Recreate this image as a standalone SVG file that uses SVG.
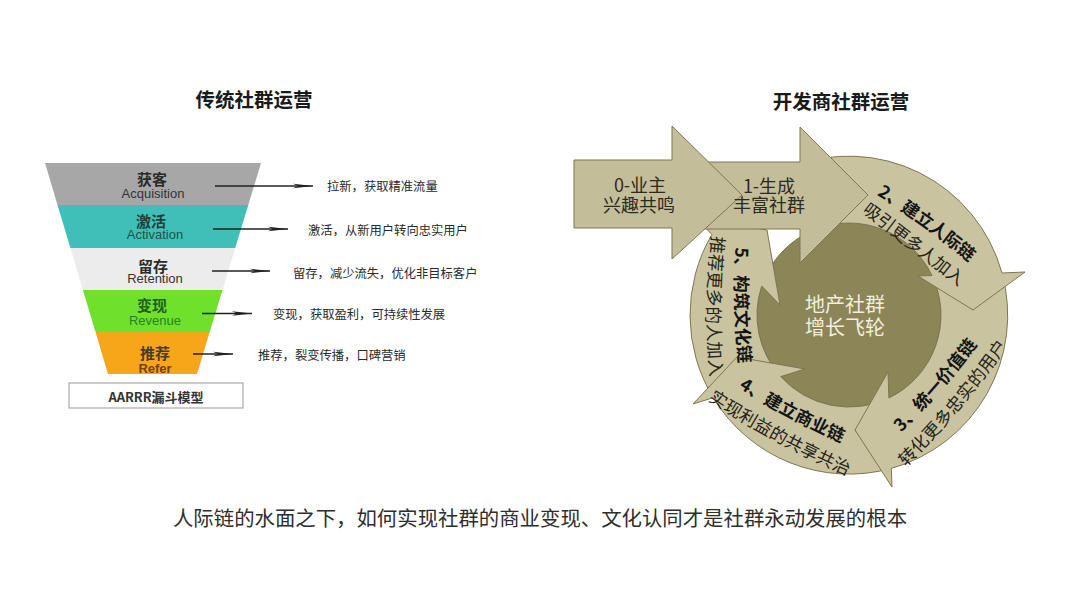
<svg xmlns="http://www.w3.org/2000/svg" width="1080" height="599" viewBox="0 0 1080 599">
<defs>
<style>
.cjk{font-family:"Noto Sans CJK SC","Noto Sans",sans-serif}
.lat{font-family:"Liberation Sans","Noto Sans CJK SC",sans-serif}
.title{font-size:19.5px;font-weight:700;fill:#1a1a1a;text-anchor:middle;dominant-baseline:central}
.desc{font-size:12.3px;fill:#2a2a2a;dominant-baseline:central}
.zh{font-size:15px;font-weight:700;text-anchor:middle;dominant-baseline:central}
.en{font-size:13px;text-anchor:middle;dominant-baseline:central}
.ring{fill:#c9c3a0;stroke:#7d7752;stroke-width:1;stroke-linejoin:round}
.big{fill:#c3bd99;stroke:#7d7752;stroke-width:1;stroke-linejoin:round}
.arcb{font-size:17.5px;font-weight:700;fill:#141414;dominant-baseline:central}
.arcr{font-size:17.5px;fill:#262318;dominant-baseline:central}
.inarrow{font-size:18px;fill:#2d2a1e;text-anchor:middle;dominant-baseline:central}
.ptr{stroke:#222;stroke-width:1.4}
</style>
<marker id="ah" viewBox="0 0 20 6" refX="20" refY="3" markerWidth="20" markerHeight="6" markerUnits="userSpaceOnUse" orient="auto">
<path d="M0,0.8 L20,3 L0,5.2 L5,3 Z" fill="#222"/>
</marker>
<path id="p2b" d="M868,180 Q928,216 986,266"/>
<path id="p2r" d="M860.8,201.1 Q912.3,240.1 969.8,285.1"/>
<path id="p3b" d="M890.8,431.6 Q936.8,386.3 975,334.4"/>
<path id="p3r" d="M897.5,464 Q956.5,405.9 1003.5,337.6"/>
<path id="p4b" d="M733.6,375.4 Q791.2,412.8 854.4,439.6"/>
<path id="p4r" d="M705.7,389.1 Q777.7,437.3 857.3,471.5"/>
<path id="p5b" d="M744,236 Q740,305 748,374"/>
<path id="p5r" d="M721,227 Q711,306 719,386"/>
</defs>
<rect width="1080" height="599" fill="#ffffff"/>

<g id="title-left"><text class="cjk title" x="254" y="98">传统社群运营</text></g>
<g id="title-right"><text class="cjk title" x="841" y="100">开发商社群运营</text></g>

<g id="funnel">
<g id="band-acquisition">
<polygon points="45,163 261,163 248.3,205 57.5,205" fill="#a7a7a7"/>
<text class="cjk zh" x="152" y="178.5" fill="#2a2a2a">获客</text>
<text class="lat en" x="153" y="193.5" fill="#333">Acquisition</text>
</g>
<g id="band-activation">
<polygon points="57.5,205 248.3,205 235.2,248 70.4,248" fill="#3fbfb7"/>
<text class="cjk zh" x="151" y="220" fill="#1f3f3e">激活</text>
<text class="lat en" x="155" y="234" fill="#23504e">Activation</text>
</g>
<g id="band-retention">
<polygon points="70.4,248 235.2,248 222.5,290 82.9,290" fill="#ececec"/>
<text class="cjk zh" x="153" y="265" fill="#2a2a2a">留存</text>
<text class="lat en" x="155" y="278.5" fill="#333">Retention</text>
</g>
<g id="band-revenue">
<polygon points="82.9,290 222.5,290 209.7,332 95.5,332" fill="#6fe12c"/>
<text class="cjk zh" x="152" y="304.5" fill="#245f20">变现</text>
<text class="lat en" x="155" y="320.5" fill="#2a7f2a">Revenue</text>
</g>
<g id="band-refer">
<polygon points="95.5,332 209.7,332 197,374 108,374" fill="#f8a619"/>
<text class="cjk zh" x="155" y="352" fill="#4a3a2a">推荐</text>
<text class="lat en" x="155" y="368.5" fill="#7a3f10" font-weight="700">Refer</text>
</g>
<g id="aarrr-box">
<rect x="69" y="383" width="174" height="25" fill="#ffffff" stroke="#a9a9a9" stroke-width="1.2"/>
<text class="cjk" x="156" y="396" font-size="13" font-weight="700" fill="#333" text-anchor="middle" dominant-baseline="central">AARRR漏斗模型</text>
</g>
</g>

<g id="funnel-connectors">
<line class="ptr" x1="215" y1="186" x2="313" y2="186" marker-end="url(#ah)"/>
<line class="ptr" x1="213" y1="229" x2="288" y2="229" marker-end="url(#ah)"/>
<line class="ptr" x1="212" y1="271" x2="270" y2="271" marker-end="url(#ah)"/>
<line class="ptr" x1="202" y1="313.5" x2="252" y2="313.5" marker-end="url(#ah)"/>
<line class="ptr" x1="193" y1="354" x2="233" y2="354" marker-end="url(#ah)"/>
</g>

<g id="funnel-descriptions">
<text class="cjk desc" x="327" y="186">拉新，获取精准流量</text>
<text class="cjk desc" x="308" y="230">激活，从新用户转向忠实用户</text>
<text class="cjk desc" x="293" y="272.5">留存，减少流失，优化非目标客户</text>
<text class="cjk desc" x="273" y="313.5">变现，获取盈利，可持续性发展</text>
<text class="cjk desc" x="258" y="354.5">推荐，裂变传播，口碑营销</text>
</g>

<g id="flywheel">
<g id="hub"><circle cx="849" cy="315" r="92" fill="#8b8558" stroke="#7a7450" stroke-width="1"/></g>
<g id="arrow5"><path class="ring" d="M713.2,397.7 A159,159 0 0 1 711.9,234.5 L697,219 L767,230 L780,305 L761.7,286 A92,92 0 0 0 780.7,376.6 L737,357 Z"/></g>
<g id="arrow4"><path class="ring" d="M891.3,468.4 A159,159 0 0 1 713.2,397.7 L693,404 L737,357 L805,369 L780.7,376.6 A92,92 0 0 0 888.9,398 L855,430 Z"/></g>
<g id="arrow3"><path class="ring" d="M1002,273 A159,159 0 0 1 891.3,468.4 L892,487 L855,430 L888,372 L888.9,398 A92,92 0 0 0 932,275.5 L973,310 Z"/></g>
<g id="arrow2"><path class="ring" d="M789.4,167.6 A159,159 0 0 1 1002,273 L1025,272 L973,310 L918,276 L932,275.5 A92,92 0 0 0 814.5,229.7 Z"/></g>
<g id="arrow1"><polygon class="big" points="700,162 800,162 800,127 868,195 800,263 800,229 700,229"/></g>
<g id="arrow0"><polygon class="big" points="574,160 672,160 672,126 742,195 672,259 672,228 574,228"/></g>
<g id="hub-label">
<text class="cjk" x="845" y="303.5" font-size="20" fill="#f3efdc" text-anchor="middle" dominant-baseline="central">地产社群</text>
<text class="cjk" x="845" y="326" font-size="20" fill="#f3efdc" text-anchor="middle" dominant-baseline="central">增长飞轮</text>
</g>
<g id="arrow0-label">
<text class="cjk inarrow" x="640" y="183.5">0-业主</text>
<text class="cjk inarrow" x="639" y="204">兴趣共鸣</text>
</g>
<g id="arrow1-label">
<text class="cjk inarrow" x="769" y="185">1-生成</text>
<text class="cjk inarrow" x="769" y="204">丰富社群</text>
</g>
<g id="arrow2-label">
<text class="cjk arcb"><textPath href="#p2b" startOffset="50%" text-anchor="middle">2、建立人际链</textPath></text>
<text class="cjk arcr"><textPath href="#p2r" startOffset="50%" text-anchor="middle">吸引更多人加入</textPath></text>
</g>
<g id="arrow3-label">
<text class="cjk arcb"><textPath href="#p3b" startOffset="50%" text-anchor="middle">3、统一价值链</textPath></text>
<text class="cjk arcr"><textPath href="#p3r" startOffset="50%" text-anchor="middle">转化更多忠实的用户</textPath></text>
</g>
<g id="arrow4-label">
<text class="cjk arcb"><textPath href="#p4b" startOffset="50%" text-anchor="middle">4、建立商业链</textPath></text>
<text class="cjk arcr"><textPath href="#p4r" startOffset="50%" text-anchor="middle">实现利益的共享共治</textPath></text>
</g>
<g id="arrow5-label">
<text class="cjk arcb"><textPath href="#p5b" startOffset="50%" text-anchor="middle">5、构筑文化链</textPath></text>
<text class="cjk arcr"><textPath href="#p5r" startOffset="50%" text-anchor="middle">推荐更多的人加入</textPath></text>
</g>
</g>

<g id="caption"><text class="cjk" x="540" y="517" font-size="20.4" fill="#2e2e2e" text-anchor="middle" dominant-baseline="central">人际链的水面之下，如何实现社群的商业变现、文化认同才是社群永动发展的根本</text></g>
</svg>
